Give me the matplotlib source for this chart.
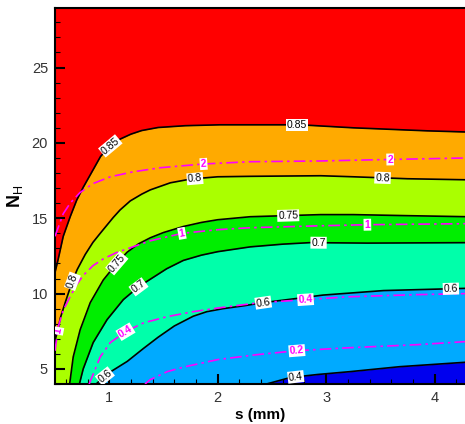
import numpy as np
import matplotlib
matplotlib.use('Agg')
import matplotlib.pyplot as plt

plt.rcParams['font.family'] = ['Liberation Sans', 'DejaVu Sans']
plt.rcParams['mathtext.fontset'] = 'custom'
plt.rcParams['mathtext.rm'] = 'Liberation Sans'
plt.rcParams['mathtext.bf'] = 'Liberation Sans:bold'

# black contour lines (level -> s, N_H points)
s_085 = [0.5, 0.53, 0.576, 0.64, 0.7, 0.76, 0.85, 0.92, 1.0, 1.1, 1.2, 1.3, 1.45, 1.7, 2.02, 2.76, 3.25, 3.93, 4.3]
n_085 = [11.4, 12.3, 13.8, 15.1, 16.2, 17.05, 18.2, 19.1, 19.75, 20.25, 20.58, 20.82, 21.02, 21.14, 21.2, 21.2, 21.0, 20.8, 20.72]

s_080 = [0.5, 0.52, 0.55, 0.594, 0.659, 0.705, 0.779, 0.85, 0.917, 1.037, 1.1, 1.194, 1.3, 1.378, 1.563, 1.75, 2.0, 2.3, 2.95, 3.25, 3.75, 4.3]
n_080 = [6.9, 7.4, 8.4, 9.4, 10.8, 11.6, 12.6, 13.4, 14.0, 15.05, 15.55, 16.15, 16.6, 16.88, 17.35, 17.6, 17.75, 17.78, 17.82, 17.75, 17.62, 17.55]

s_075 = [0.635, 0.668, 0.732, 0.825, 0.945, 1.074, 1.166, 1.27, 1.378, 1.5, 1.683, 1.85, 2.0, 2.3, 2.95, 3.25, 3.75, 4.3]
n_075 = [4.0, 5.8, 7.6, 9.4, 10.9, 12.05, 12.75, 13.3, 13.7, 14.05, 14.45, 14.72, 14.9, 15.1, 15.24, 15.24, 15.17, 15.1]

s_070 = [0.725, 0.76, 0.852, 0.98, 1.13, 1.27, 1.378, 1.53, 1.683, 1.85, 2.0, 2.3, 2.6, 2.85, 3.38, 4.3]
n_070 = [4.0, 5.0, 6.75, 8.27, 9.6, 10.45, 10.95, 11.65, 12.2, 12.55, 12.78, 13.1, 13.28, 13.38, 13.35, 13.38]

s_060 = [0.88, 0.945, 1.01, 1.166, 1.314, 1.45, 1.6, 1.775, 1.9, 2.05, 2.25, 2.42, 2.7, 2.97, 3.53, 4.3]
n_060 = [4.0, 4.45, 4.8, 5.5, 6.35, 7.1, 7.85, 8.5, 8.8, 9.0, 9.2, 9.4, 9.65, 9.9, 10.2, 10.35]

s_040 = [2.45, 2.67, 2.92, 3.22, 3.68, 4.3]
n_040 = [4.0, 4.43, 4.63, 4.82, 5.15, 5.45]

# magenta dash-dot lines
m_s_2 = [0.5, 0.576, 0.64, 0.73, 0.85, 1.01, 1.22, 1.47, 1.87, 2.3, 2.95, 3.59, 4.3]
m_n_2 = [13.8, 15.3, 16.0, 16.7, 17.3, 17.75, 18.08, 18.35, 18.6, 18.75, 18.8, 18.9, 19.0]

m_s_1 = [0.5, 0.53, 0.576, 0.64, 0.7, 0.76, 0.85, 0.945, 1.06, 1.194, 1.378, 1.673, 2.0, 2.3, 2.95, 3.38, 4.3]
m_n_1 = [6.2, 7.8, 8.9, 9.8, 10.6, 11.2, 11.85, 12.3, 12.7, 13.04, 13.5, 14.0, 14.24, 14.37, 14.5, 14.57, 14.64]

m_s_04 = [0.815, 0.917, 1.01, 1.15, 1.314, 1.535, 1.775, 2.02, 2.365, 2.81, 3.22, 3.84, 4.3]
m_n_04 = [4.0, 5.8, 6.75, 7.47, 8.05, 8.47, 8.8, 9.06, 9.38, 9.6, 9.79, 9.93, 10.0]

m_s_02 = [1.33, 1.378, 1.535, 1.683, 2.0, 2.365, 2.73, 3.22, 3.84, 4.3]
m_n_02 = [4.0, 4.29, 4.82, 5.12, 5.62, 5.95, 6.21, 6.41, 6.61, 6.82]

black_lines = [('0.85', s_085, n_085), ('0.8', s_080, n_080), ('0.75', s_075, n_075),
               ('0.7', s_070, n_070), ('0.6', s_060, n_060), ('0.4', s_040, n_040)]
magenta_lines = [('2', m_s_2, m_n_2), ('1', m_s_1, m_n_1),
                 ('0.4', m_s_04, m_n_04), ('0.2', m_s_02, m_n_02)]

# band colours, top band first, then the band under each black line
top_color = '#ff0000'
band_colors = ['#ffaa00', '#aaff00', '#00ee00', '#00ffaa', '#00aaff', '#0000ee']

# label positions along the lines (s values)
black_label_s = {'0.85': [1.01, 2.73], '0.8': [0.66, 1.79, 3.52], '0.75': [1.07, 2.65],
                 '0.7': [1.27, 2.93], '0.6': [0.96, 2.42, 4.15], '0.4': [2.72]}
magenta_label_s = {'2': [1.87, 3.59], '1': [0.525, 1.67, 3.38], '0.4': [1.15, 2.81], '0.2': [2.73]}

fig = plt.figure(figsize=(4.65, 4.24), dpi=100)
ax = fig.add_axes([55 / 465, 40 / 424, 410 / 465, 376 / 424])
ax.set_xlim(0.5, 4.28)
ax.set_ylim(4, 28.95)

ax.set_facecolor(top_color)
for (lev, s, n), c in zip(black_lines, band_colors):
    ax.fill_between(s, 0, n, color=c, lw=0, zorder=1)
for lev, s, n in black_lines:
    ax.plot(s, n, color='black', lw=1.2, zorder=3, solid_joinstyle='round')
for lev, s, n in magenta_lines:
    ax.plot(s, n, color='#ff00ff', lw=1.2, ls=(0, (7, 2.5, 1.5, 2.5)), zorder=4)


def put_label(s, n, at, txt, color, weight):
    y = np.interp(at, s, n)
    p1 = ax.transData.transform((at - 0.03, np.interp(at - 0.03, s, n)))
    p2 = ax.transData.transform((at + 0.03, np.interp(at + 0.03, s, n)))
    ang = np.degrees(np.arctan2(p2[1] - p1[1], p2[0] - p1[0]))
    ax.text(at, y, txt, color=color, fontsize=7.5, fontweight=weight, rotation=ang,
            rotation_mode='anchor', ha='center', va='center', zorder=5, clip_on=True,
            bbox=dict(fc='white', ec='none', pad=0.7))


for lev, s, n in black_lines:
    for at in black_label_s[lev]:
        put_label(s, n, at, lev, 'black', 'normal')
for lev, s, n in magenta_lines:
    for at in magenta_label_s[lev]:
        put_label(s, n, at, lev, '#ff00ff', 'bold')

ax.set_xticks([1, 2, 3, 4])
ax.set_xticks(np.arange(0.6, 4.3, 0.2), minor=True)
ax.set_yticks([5, 10, 15, 20, 25])
ax.set_yticks(np.arange(4, 29, 1), minor=True)
ax.tick_params(which='both', direction='in', top=False, right=False, labelsize=10.5,
               labelcolor='#333333')
ax.tick_params(which='major', length=7, width=1.5, pad=5)
ax.tick_params(which='minor', length=3.5, width=0.8)
ax.spines['right'].set_visible(False)
for sp in ['left', 'top', 'bottom']:
    ax.spines[sp].set_linewidth(1.5)

ax.set_xlabel('s (mm)', fontsize=11, fontweight='bold', labelpad=2)
ax.set_ylabel(r'$\mathbf{N}_\mathrm{H}$', fontsize=13, labelpad=5)

fig.savefig('out.png', dpi=100)
